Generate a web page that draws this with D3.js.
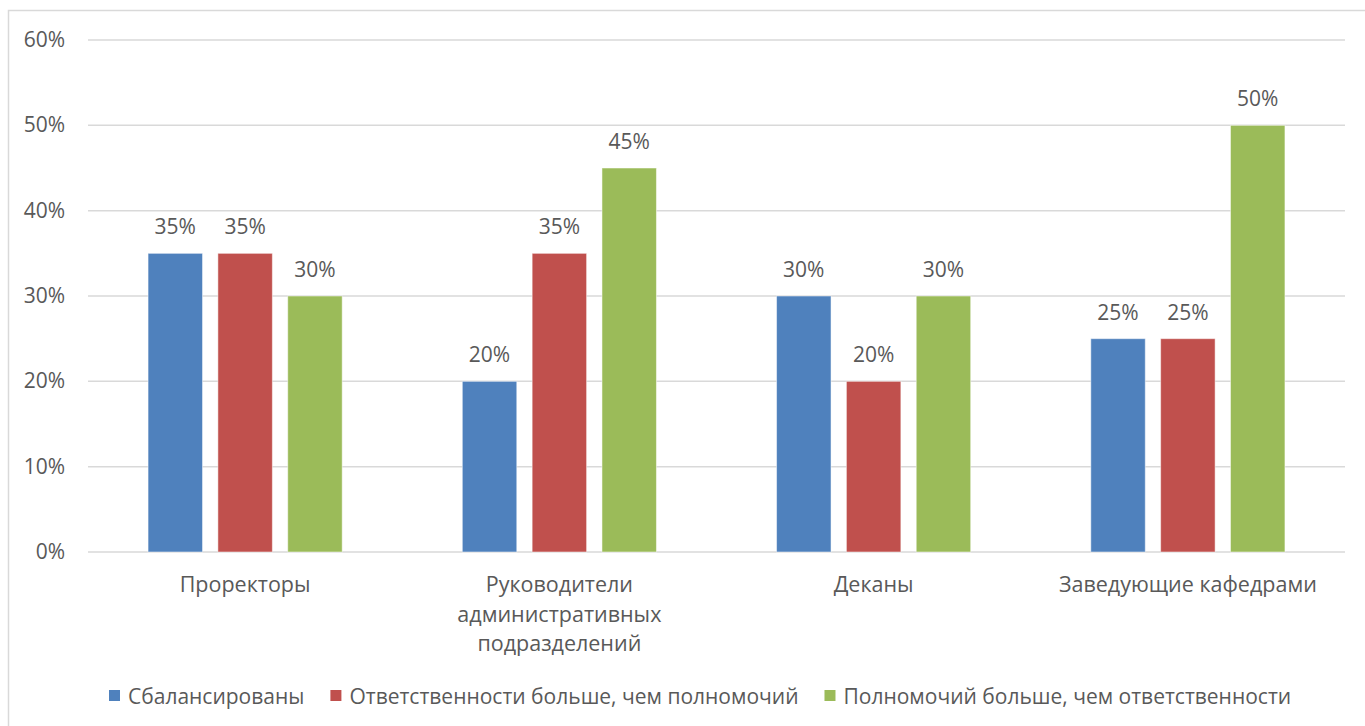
<!DOCTYPE html>
<html>
<head>
<meta charset="utf-8">
<script src="https://cdn.jsdelivr.net/npm/d3@7"></script>
<style>
  body { margin: 0; background: #fff; }
  text { font-family: "Open Sans", "Noto Sans", sans-serif; fill: #595959; }
</style>
</head>
<body>
<div id="chart"></div>
<script>
// chart data
const categories = [
  ["Проректоры"],
  ["Руководители", "административных", "подразделений"],
  ["Деканы"],
  ["Заведующие кафедрами"]
];
const seriesNames = [
  "Сбалансированы",
  "Ответственности больше, чем полномочий",
  "Полномочий больше, чем ответственности"
];
const balanced = [0.35, 0.20, 0.30, 0.25];
const moreResponsibility = [0.35, 0.35, 0.20, 0.25];
const moreAuthority = [0.30, 0.45, 0.30, 0.50];
const yTicks = [0, 0.1, 0.2, 0.3, 0.4, 0.5, 0.6];

const colors = ["#4F81BD", "#C0504D", "#9BBB59"];
const seriesValues = [balanced, moreResponsibility, moreAuthority];

const width = 1365;
const height = 726;
const plotLeft = 88;
const plotRight = 1345;

const svg = d3.select("#chart")
  .append("svg")
  .attr("width", width)
  .attr("height", height);

// outer chart frame
svg.append("rect")
  .attr("x", 8.5)
  .attr("y", 10.5)
  .attr("width", 1370)
  .attr("height", 730)
  .attr("fill", "none")
  .attr("stroke", "#d9d9d9")
  .attr("stroke-width", 1.5);

const x0 = d3.scaleBand()
  .domain(d3.range(categories.length))
  .range([plotLeft, plotRight]);

const x1 = d3.scaleBand()
  .domain(d3.range(seriesNames.length))
  .range([0, x0.bandwidth()])
  .paddingInner(0.22)
  .paddingOuter(0.86);

const y = d3.scaleLinear()
  .domain([0, 0.6])
  .range([552, 40]);

const fmt = d3.format(".0%");

// gridlines
svg.append("g")
  .selectAll("line")
  .data(yTicks)
  .enter().append("line")
  .attr("x1", plotLeft)
  .attr("x2", plotRight)
  .attr("y1", d => y(d))
  .attr("y2", d => y(d))
  .attr("stroke", "#d9d9d9")
  .attr("stroke-width", 1.5);

// y tick labels
svg.append("g")
  .selectAll("text")
  .data(yTicks)
  .enter().append("text")
  .attr("x", 65)
  .attr("y", d => y(d) + 7)
  .attr("text-anchor", "end")
  .attr("font-size", 21)
  .text(d => fmt(d));

// bars
const groups = svg.append("g")
  .selectAll("g")
  .data(categories)
  .enter().append("g")
  .attr("transform", (d, i) => `translate(${x0(i)},0)`);

const cells = (d, i) => seriesValues.map((vals, s) => ({ s, v: vals[i] }));

groups.selectAll("rect")
  .data(cells)
  .enter().append("rect")
  .attr("x", d => x1(d.s))
  .attr("y", d => y(d.v))
  .attr("width", x1.bandwidth())
  .attr("height", d => y(0) - y(d.v))
  .attr("fill", d => colors[d.s])
  .attr("stroke", "#fff")
  .attr("stroke-opacity", 0.5)
  .attr("stroke-width", 1);

// value labels
groups.selectAll("text.value")
  .data(cells)
  .enter().append("text")
  .attr("class", "value")
  .attr("x", d => x1(d.s) + x1.bandwidth() / 2)
  .attr("y", d => y(d.v) - 19)
  .attr("text-anchor", "middle")
  .attr("font-size", 21)
  .text(d => fmt(d.v));

// category labels
groups.append("text")
  .attr("x", x0.bandwidth() / 2)
  .attr("y", 592)
  .attr("text-anchor", "middle")
  .attr("font-size", 21.5)
  .selectAll("tspan")
  .data(d => d)
  .enter().append("tspan")
  .attr("x", x0.bandwidth() / 2)
  .attr("dy", (d, i) => i === 0 ? 0 : 29.5)
  .text(d => d);

// legend, laid out left to right
const legend = svg.append("g");
let lx = 109;
seriesNames.forEach((name, i) => {
  const item = legend.append("g").attr("transform", `translate(${lx},690)`);
  item.append("rect")
    .attr("width", 11)
    .attr("height", 11)
    .attr("fill", colors[i]);
  const t = item.append("text")
    .attr("x", 19)
    .attr("y", 14)
    .attr("font-size", 21)
    .text(name);
  lx += 19 + t.node().getComputedTextLength() + 26;
});
</script>
</body>
</html>
